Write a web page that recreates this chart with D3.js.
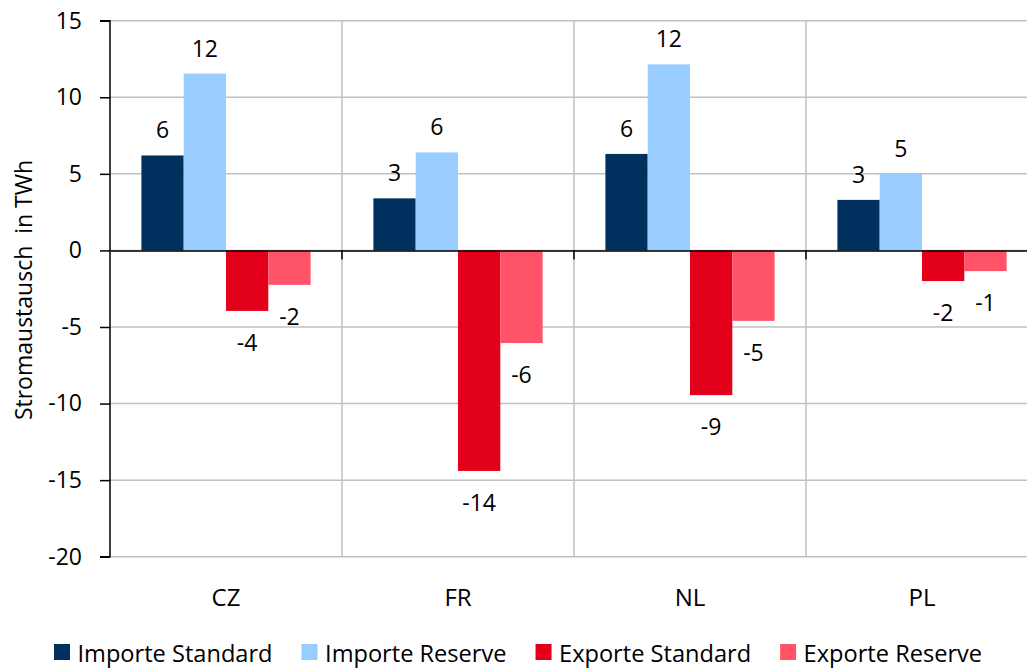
<!DOCTYPE html>
<html>
<head>
<meta charset="utf-8">
<title>Stromaustausch in TWh</title>
<script src="https://d3js.org/d3.v7.min.js"></script>
<style>
  body { margin: 0; background: #fff; overflow: hidden; }
  svg text { font-family: "Open Sans", sans-serif; fill: #000; }
</style>
</head>
<body>
<div id="chart"></div>
<script>
// chart data
const countries = ["CZ", "FR", "NL", "PL"];
const seriesNames = ["Importe Standard", "Importe Reserve", "Exporte Standard", "Exporte Reserve"];
const importeStandard = [6.2, 3.4, 6.3, 3.3];
const importeReserve = [11.55, 6.4, 12.15, 5.0];
const exporteStandard = [-3.95, -14.4, -9.45, -2.0];
const exporteReserve = [-2.25, -6.05, -4.6, -1.35];
const yTicks = [15, 10, 5, 0, -5, -10, -15, -20];

const colors = ["#00305e", "#99ccff", "#e2001a", "#ff5468"];
const seriesValues = [importeStandard, importeReserve, exporteStandard, exporteReserve];

const width = 1027, height = 668;
const margin = { top: 20.7, left: 110, bottom: 556.7 };
const catWidth = 232;

const svg = d3.select("#chart").append("svg")
    .attr("width", width)
    .attr("height", height);

const x = d3.scaleBand()
    .domain(countries)
    .range([margin.left, margin.left + catWidth * countries.length])
    .padding(0);

const xInner = d3.scaleBand()
    .domain(seriesNames)
    .range([0, x.bandwidth()])
    .paddingInner(0)
    .paddingOuter(0.742);

const y = d3.scaleLinear()
    .domain([-20, 15])
    .range([margin.bottom, margin.top]);

const right = x.range()[1];

// horizontal gridlines
svg.append("g")
  .selectAll("line")
  .data(yTicks)
  .join("line")
    .attr("x1", margin.left)
    .attr("x2", right)
    .attr("y1", d => y(d))
    .attr("y2", d => y(d))
    .attr("stroke", "#c0c0c0")
    .attr("stroke-width", 1.5);

// vertical gridlines between countries
const bounds = countries.map((c, i) => x(c) + x.bandwidth());
svg.append("g")
  .selectAll("line")
  .data(bounds)
  .join("line")
    .attr("x1", d => d)
    .attr("x2", d => d)
    .attr("y1", margin.top)
    .attr("y2", margin.bottom)
    .attr("stroke", "#c0c0c0")
    .attr("stroke-width", 1.5);

// bars
const rows = [];
countries.forEach((c, ci) => {
    seriesNames.forEach((s, si) => {
        rows.push({ country: c, series: s, si: si, value: seriesValues[si][ci] });
    });
});

svg.append("g")
  .selectAll("rect")
  .data(rows)
  .join("rect")
    .attr("x", d => x(d.country) + xInner(d.series))
    .attr("width", xInner.bandwidth())
    .attr("y", d => y(Math.max(0, d.value)))
    .attr("height", d => Math.abs(y(d.value) - y(0)))
    .attr("fill", d => colors[d.si]);

// value labels
svg.append("g")
  .selectAll("text")
  .data(rows)
  .join("text")
    .attr("x", d => x(d.country) + xInner(d.series) + xInner.bandwidth() / 2)
    .attr("y", d => d.value >= 0 ? y(d.value) - 17 : y(d.value) + 40)
    .attr("text-anchor", "middle")
    .style("font-size", "23px")
    .text(d => String(Math.round(d.value)));

// y axis
const yAxis = d3.axisLeft(y).tickValues(yTicks).tickSize(10).tickPadding(18).tickFormat(d => String(d));
const yAxisG = svg.append("g")
    .attr("transform", `translate(${margin.left},0)`)
    .call(yAxis);
yAxisG.select(".domain").attr("stroke", "#000").attr("stroke-width", 1.5)
    .attr("d", `M-10,${y(15)}H0V${y(-20)}H-10`);
yAxisG.selectAll(".tick line").attr("stroke", "#000").attr("stroke-width", 1.5);
yAxisG.selectAll(".tick text")
    .style("font-size", "23px")
    .attr("font-family", null);

// zero line
const xAxis = d3.axisBottom(x).tickSize(0).tickFormat(d => d);
const xAxisG = svg.append("g")
    .attr("transform", `translate(0,${y(0)})`)
    .call(xAxis);
xAxisG.select(".domain").attr("stroke", "#000").attr("stroke-width", 1.5);
xAxisG.selectAll(".tick").remove();

// category boundary ticks on the zero line
xAxisG.append("g")
  .selectAll("line")
  .data(bounds)
  .join("line")
    .attr("x1", d => d)
    .attr("x2", d => d)
    .attr("y1", 0)
    .attr("y2", 9)
    .attr("stroke", "#000")
    .attr("stroke-width", 1.5);

// category labels below the plot
svg.append("g")
  .selectAll("text")
  .data(countries)
  .join("text")
    .attr("x", d => x(d) + x.bandwidth() / 2)
    .attr("y", 606)
    .attr("text-anchor", "middle")
    .style("font-size", "24px")
    .text(d => d);

// y axis title
svg.append("text")
    .attr("transform", "translate(32,290) rotate(-90)")
    .attr("text-anchor", "middle")
    .style("font-size", "23px")
    .text("Stromaustausch\u00a0\u00a0in TWh");

// legend
const legend = svg.append("g");
let lx = 54;
seriesNames.forEach((s, i) => {
    legend.append("rect")
        .attr("x", lx).attr("y", 644)
        .attr("width", 16).attr("height", 16)
        .attr("fill", colors[i]);
    const t = legend.append("text")
        .attr("x", lx + 23.5).attr("y", 662)
        .style("font-size", "23.6px")
        .text(s);
    lx += 23.5 + t.node().getComputedTextLength() + 29;
});
</script>
</body>
</html>
